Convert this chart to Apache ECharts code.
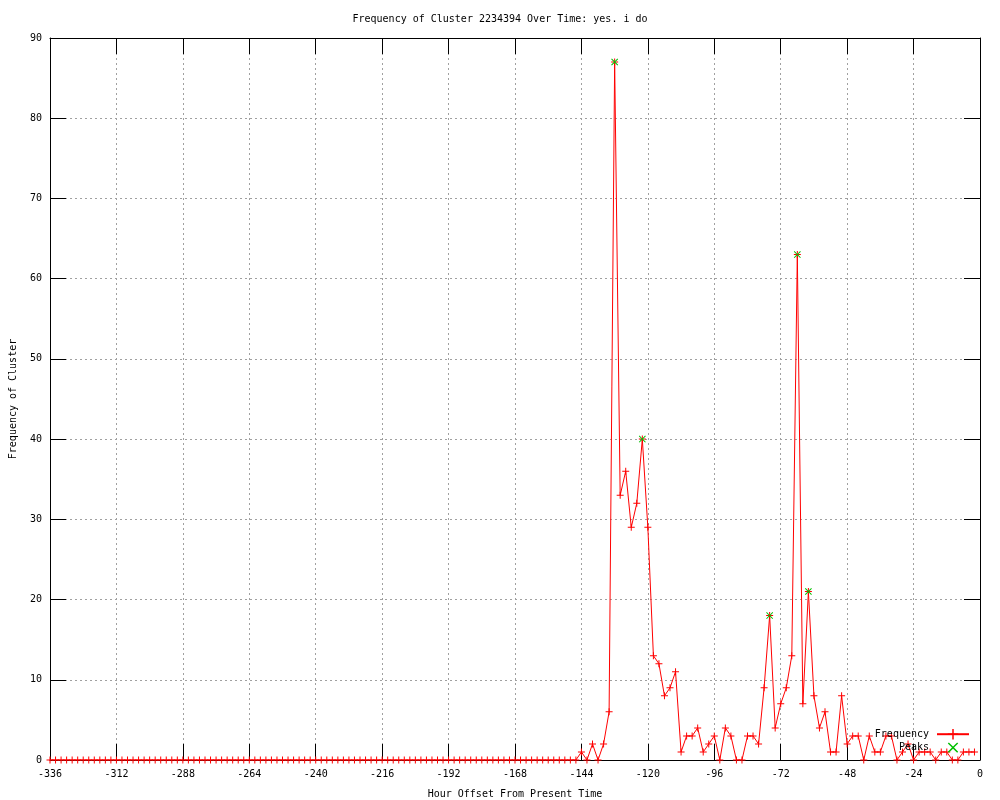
<!DOCTYPE html>
<html><head><meta charset="utf-8">
<script src="https://cdn.jsdelivr.net/npm/echarts@6/dist/echarts.min.js"></script>
<style>html,body{margin:0;padding:0;background:#fff}#c{width:1000px;height:800px}</style>
</head><body><div id="c"></div>
<script>
const hours = [
 -336,-334,-332,-330,-328,-326,-324,-322,-320,-318,-316,-314,
 -312,-310,-308,-306,-304,-302,-300,-298,-296,-294,-292,-290,
 -288,-286,-284,-282,-280,-278,-276,-274,-272,-270,-268,-266,
 -264,-262,-260,-258,-256,-254,-252,-250,-248,-246,-244,-242,
 -240,-238,-236,-234,-232,-230,-228,-226,-224,-222,-220,-218,
 -216,-214,-212,-210,-208,-206,-204,-202,-200,-198,-196,-194,
 -192,-190,-188,-186,-184,-182,-180,-178,-176,-174,-172,-170,
 -168,-166,-164,-162,-160,-158,-156,-154,-152,-150,-148,-146,
 -144,-142,-140,-138,-136,-134,-132,-130,-128,-126,-124,-122,
 -120,-118,-116,-114,-112,-110,-108,-106,-104,-102,-100,-98,
 -96,-94,-92,-90,-88,-86,-84,-82,-80,-78,-76,-74,
 -72,-70,-68,-66,-64,-62,-60,-58,-56,-54,-52,-50,
 -48,-46,-44,-42,-40,-38,-36,-34,-32,-30,-28,-26,
 -24,-22,-20,-18,-16,-14,-12,-10,-8,-6,-4,-2
];
const frequency = [
 0,0,0,0,0,0,0,0,0,0,0,0,
 0,0,0,0,0,0,0,0,0,0,0,0,
 0,0,0,0,0,0,0,0,0,0,0,0,
 0,0,0,0,0,0,0,0,0,0,0,0,
 0,0,0,0,0,0,0,0,0,0,0,0,
 0,0,0,0,0,0,0,0,0,0,0,0,
 0,0,0,0,0,0,0,0,0,0,0,0,
 0,0,0,0,0,0,0,0,0,0,0,0,
 1,0,2,0,2,6,87,33,36,29,32,40,
 29,13,12,8,9,11,1,3,3,4,1,2,
 3,0,4,3,0,0,3,3,2,9,18,4,
 7,9,13,63,7,21,8,4,6,1,1,8,
 2,3,3,0,3,1,1,3,3,0,1,2,
 0,1,1,1,0,1,1,0,0,1,1,1
];
const peakHours = [-132,-122,-76,-66,-62];
const peakValues = [87,40,18,63,21];
const xTicks = {min:-336, max:0, interval:24};
const yTicks = {min:0, max:90, interval:10};

const FONT = 'DejaVu Sans Mono';
const plusSym = 'path://M3,0h1v3h3v1h-3v3h-1v-3h-3v-1h3z';
const crossSym = 'path://M0,0.7L0.7,0L3.5,2.8L6.3,0L7,0.7L4.2,3.5L7,6.3L6.3,7L3.5,4.2L0.7,7L0,6.3L2.8,3.5Z';

const freqData = hours.map((h,i)=>[h, frequency[i]]);
const peakData = peakHours.map((h,i)=>[h, peakValues[i]]);

const grid = {left:50, right:20, top:38, bottom:40, show:false, outerBoundsMode:'none', containLabel:false};
const gridLine = {show:true, lineStyle:{color:'#a0a0a0', type:[2,3], width:1}};
const axLine = {show:true, onZero:false, lineStyle:{color:'#000', width:1}};
const tick = {show:true, inside:true, length:16, lineStyle:{color:'#000'}};
const labelStyle = {color:'#000', fontFamily:FONT, fontSize:10};

const chart = echarts.init(document.getElementById('c'), null, {renderer:'canvas'});
chart.setOption({
  animation:false,
  backgroundColor:'#fff',
  title:{text:'Frequency of Cluster 2234394 Over Time: yes. i do', left:'center', top:9,
    textStyle:{fontFamily:FONT, fontSize:10, fontWeight:'normal', color:'#000'}},
  grid:grid,
  legend:{right:30, top:729, padding:0, orient:'vertical', align:'right', itemWidth:32, itemHeight:13, itemGap:3,
    textStyle:{fontFamily:FONT, fontSize:10, color:'#000', padding:[0,3,0,0]},
    data:['Frequency','Peaks']},
  xAxis:[
    {type:'value', min:xTicks.min, max:xTicks.max, interval:xTicks.interval, position:'bottom',
     name:'Hour Offset From Present Time', nameLocation:'middle', nameGap:29,
     nameTextStyle:{fontFamily:FONT, fontSize:10, color:'#000'},
     axisLine:axLine, axisTick:tick, splitLine:gridLine, axisLabel:Object.assign({margin:9}, labelStyle)},
    {type:'value', min:xTicks.min, max:xTicks.max, interval:xTicks.interval, position:'top',
     axisLine:axLine, axisTick:tick, splitLine:{show:false}, axisLabel:{show:false}}
  ],
  yAxis:[
    {type:'value', min:yTicks.min, max:yTicks.max, interval:yTicks.interval, position:'left',
     name:'Frequency of Cluster', nameLocation:'middle', nameGap:32, nameRotate:90,
     nameTextStyle:{fontFamily:FONT, fontSize:10, color:'#000'},
     axisLine:axLine, axisTick:tick, splitLine:gridLine, axisLabel:Object.assign({margin:8}, labelStyle)},
    {type:'value', min:yTicks.min, max:yTicks.max, interval:yTicks.interval, position:'right',
     axisLine:axLine, axisTick:tick, splitLine:{show:false}, axisLabel:{show:false}}
  ],
  series:[
    {name:'Frequency', type:'line', data:freqData, xAxisIndex:0, yAxisIndex:0,
     symbol:plusSym, symbolSize:7, showAllSymbol:true, z:3,
     lineStyle:{color:'#ff0000', width:1}, itemStyle:{color:'#ff0000'}},
    {name:'Peaks', type:'line', data:peakData, xAxisIndex:0, yAxisIndex:0,
     symbol:crossSym, symbolSize:7, z:4,
     lineStyle:{width:0, opacity:0}, itemStyle:{color:'#00c000'}}
  ]
});
</script></body></html>
